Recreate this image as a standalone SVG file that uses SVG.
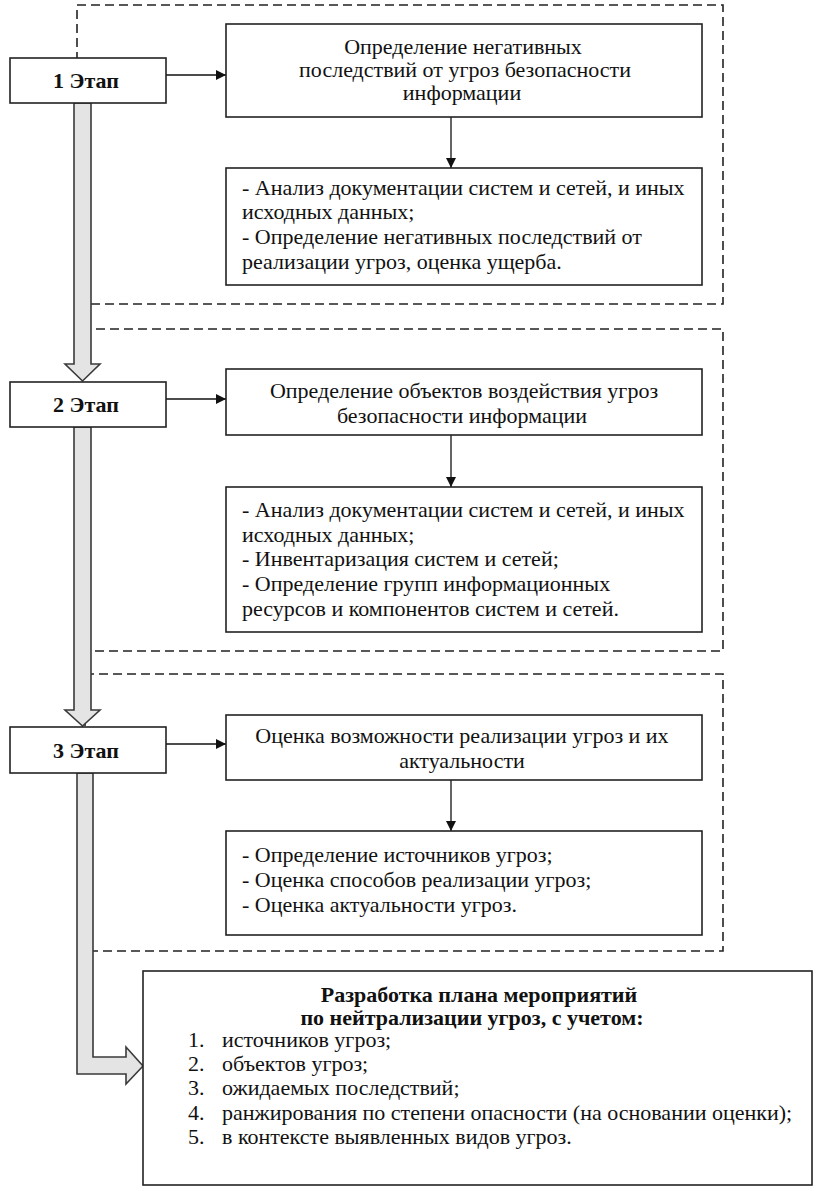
<svg xmlns="http://www.w3.org/2000/svg" width="823" height="1191" viewBox="0 0 823 1191">
<style>
.dash{fill:none;stroke:#222;stroke-width:1.6;stroke-dasharray:9 5}
.box{fill:#fff;stroke:#222;stroke-width:1.6}
.fat{fill:#e4e4e4;stroke:#3a3a3a;stroke-width:1.6;stroke-linejoin:miter}
.t{font-family:"Liberation Serif","Times New Roman",serif;font-size:22px;fill:#111}
.c{text-anchor:middle}
.b{font-weight:bold}
.ln{stroke:#111;stroke-width:1.3;fill:none}
</style>
<defs>
<marker id="ah" viewBox="0 0 10 10" refX="10" refY="5" markerWidth="10" markerHeight="10" markerUnits="userSpaceOnUse" orient="auto">
<path d="M0,0 L10,5 L0,10 z" fill="#111"/>
</marker>
</defs>
<g id="frames">
<rect class="dash" x="77" y="5" width="646" height="299"/>
<rect class="dash" x="82" y="329" width="641" height="322"/>
<rect class="dash" x="85" y="674" width="638" height="277"/>
</g>
<g id="connectors">
<path class="fat" d="M74,103 L91,103 L91,364 L100,364 L82.5,381 L65,364 L74,364 Z"/>
<path class="fat" d="M74,427 L91,427 L91,710 L100,710 L82.5,726 L65,710 L74,710 Z"/>
<path class="fat" d="M77,773 L93,773 L93,1057 L126,1057 L126,1047 L143,1066 L126,1084 L126,1074 L77,1074 Z"/>
<line class="ln" x1="166" y1="75" x2="226" y2="75" marker-end="url(#ah)"/>
<line class="ln" x1="166" y1="399" x2="226" y2="399" marker-end="url(#ah)"/>
<line class="ln" x1="166" y1="744" x2="226" y2="744" marker-end="url(#ah)"/>
<line class="ln" x1="451" y1="117" x2="451" y2="168" marker-end="url(#ah)"/>
<line class="ln" x1="451" y1="435" x2="451" y2="487" marker-end="url(#ah)"/>
<line class="ln" x1="451" y1="780" x2="451" y2="831" marker-end="url(#ah)"/>
</g>
<g id="stage1">
<rect class="box" x="10" y="58" width="156" height="45"/>
<text class="t c b" x="86" y="88">1 Этап</text>
</g>
<g id="stage2">
<rect class="box" x="10" y="382" width="156" height="45"/>
<text class="t c b" x="86" y="412">2 Этап</text>
</g>
<g id="stage3">
<rect class="box" x="10" y="727" width="156" height="46"/>
<text class="t c b" x="86" y="758">3 Этап</text>
</g>
<g id="s1-main">
<rect class="box" x="226" y="24" width="476" height="93"/>
<text class="t c" x="463" y="54">Определение негативных</text>
<text class="t c" x="465" y="77">последствий от угроз безопасности</text>
<text class="t c" x="462" y="100">информации</text>
</g>
<g id="s1-detail">
<rect class="box" x="226" y="168" width="476" height="117"/>
<text class="t" x="242" y="195">- Анализ документации систем и сетей, и иных</text>
<text class="t" x="242" y="219">исходных данных;</text>
<text class="t" x="242" y="244">- Определение негативных последствий от</text>
<text class="t" x="242" y="269">реализации угроз, оценка ущерба.</text>
</g>
<g id="s2-main">
<rect class="box" x="226" y="369" width="476" height="66"/>
<text class="t c" x="464" y="398">Определение объектов воздействия угроз</text>
<text class="t c" x="462" y="423">безопасности информации</text>
</g>
<g id="s2-detail">
<rect class="box" x="226" y="487" width="476" height="145"/>
<text class="t" x="242" y="517">- Анализ документации систем и сетей, и иных</text>
<text class="t" x="242" y="542">исходных данных;</text>
<text class="t" x="242" y="566">- Инвентаризация систем и сетей;</text>
<text class="t" x="242" y="591">- Определение групп информационных</text>
<text class="t" x="242" y="616">ресурсов и компонентов систем и сетей.</text>
</g>
<g id="s3-main">
<rect class="box" x="226" y="715" width="476" height="65"/>
<text class="t c" x="462" y="743">Оценка возможности реализации угроз и их</text>
<text class="t c" x="462" y="768">актуальности</text>
</g>
<g id="s3-detail">
<rect class="box" x="226" y="831" width="476" height="104"/>
<text class="t" x="242" y="862">- Определение источников угроз;</text>
<text class="t" x="242" y="887">- Оценка способов реализации угроз;</text>
<text class="t" x="242" y="912">- Оценка актуальности угроз.</text>
</g>
<g id="plan">
<rect class="box" x="143" y="971" width="669" height="214"/>
<text class="t c b" x="479" y="1002">Разработка плана мероприятий</text>
<text class="t c b" x="472" y="1025">по нейтрализации угроз, с учетом:</text>
<text class="t" x="188" y="1047">1.</text><text class="t" x="222" y="1047">источников угроз;</text>
<text class="t" x="188" y="1071">2.</text><text class="t" x="222" y="1071">объектов угроз;</text>
<text class="t" x="188" y="1095">3.</text><text class="t" x="222" y="1095">ожидаемых последствий;</text>
<text class="t" x="188" y="1120">4.</text><text class="t" x="222" y="1120">ранжирования по степени опасности (на основании оценки);</text>
<text class="t" x="188" y="1144">5.</text><text class="t" x="222" y="1144">в контексте выявленных видов угроз.</text>
</g>
</svg>
